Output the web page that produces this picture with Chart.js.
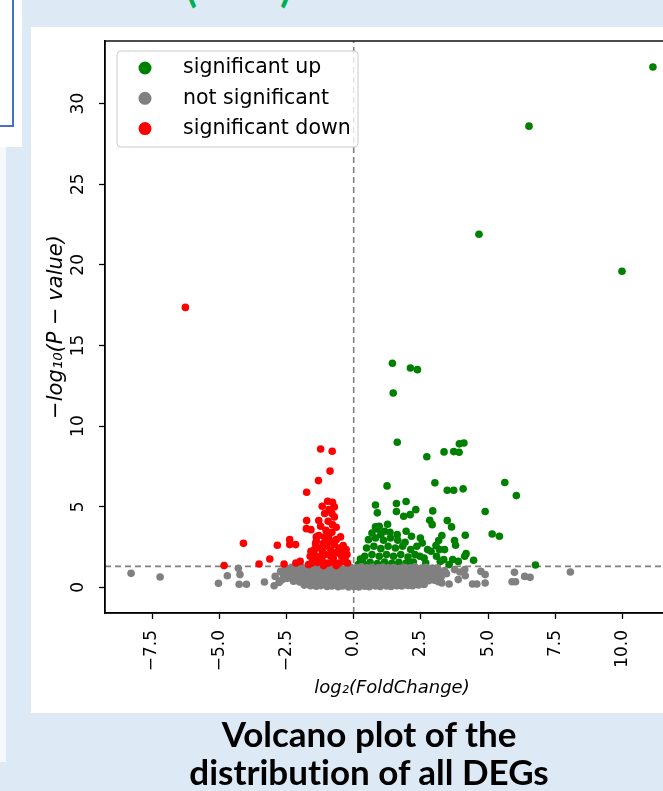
<!DOCTYPE html>
<html><head><meta charset="utf-8">
<script src="https://cdn.jsdelivr.net/npm/chart.js@4.4.0/dist/chart.umd.min.js"></script>
<style>
html,body{margin:0;padding:0;}
body{width:663px;height:791px;overflow:hidden;position:relative;background:#dde9f5;font-family:'DejaVu Sans';}
#lefttop{position:absolute;left:0;top:0;width:22px;height:147px;background:#fff;}
#bluebox{position:absolute;left:-2px;top:-2px;width:12px;height:125px;background:#fff;border:2px solid #4472c4;}
#leftstrip{position:absolute;left:0;top:147px;width:6px;height:615px;background:#f6f9fc;}
#panel{position:absolute;left:31px;top:27px;width:640px;height:686px;background:#fff;}
#chartwrap{position:absolute;left:31px;top:27px;width:680px;height:686px;}
.paren{position:absolute;top:-33px;font-family:Lato;font-weight:bold;font-size:40px;line-height:40px;color:#00b050;}
#caption{position:absolute;left:69px;width:600px;top:714px;text-align:center;font-family:Lato;font-weight:bold;font-size:35px;line-height:38px;color:#000;font-variant-ligatures:none;font-feature-settings:"liga" 0;}
</style>
</head>
<body>
<div id="lefttop"></div>
<div id="bluebox"></div>
<div id="leftstrip"></div>
<div class="paren" style="left:186px">(</div>
<div class="paren" style="left:280px">)</div>
<div id="panel"></div>
<div id="chartwrap"><canvas id="c" width="680" height="686"></canvas></div>
<div id="caption">Volcano plot of the<br>distribution of all DEGs</div>
<script>
// ---- data ----
const seriesNames = ['significant up', 'not significant', 'significant down'];
const xTicks = [-7.5, -5, -2.5, 0, 2.5, 5, 7.5, 10];
const xTickLabels = ['\u22127.5', '\u22125.0', '\u22122.5', '0.0', '2.5', '5.0', '7.5', '10.0'];
const yTicks = [0, 5, 10, 15, 20, 25, 30];
const yTickLabels = ['0', '5', '10', '15', '20', '25', '30'];
const xRange = [-9.25, 12.1];
const yRange = [-1.59, 33.88];
const fcThreshold = 0;
const pThreshold = 1.301;
const xTitle = 'log\u2082(FoldChange)';
const yTitle = '\u2212log\u2081\u2080(P \u2212 value)';

const upPoints = [
 [11.13,32.27],[6.52,28.6],[4.66,21.9],[9.98,19.6],[1.44,13.9],[2.11,13.6],[2.37,13.5],[1.47,12.05],
 [1.62,9.0],[2.72,8.1],[3.36,8.4],[3.72,8.42],[3.92,8.38],[3.93,8.9],[4.10,8.95],
 [1.24,6.29],[3.02,6.48],[3.48,6.02],[3.72,6.02],[4.07,6.11],[5.62,6.50],[6.05,5.69],[4.89,4.70],
 [5.15,3.31],[5.42,3.17],[6.76,1.39],[4.46,1.68],[4.15,3.23],[3.75,2.90],[3.79,2.61],[3.48,4.14],
 [3.64,3.75],[2.94,4.74],[2.83,4.16],[2.92,3.89],[3.28,3.21],[3.16,2.90],[3.19,2.34],[3.38,2.34],
 [3.68,1.72],[4.13,1.93],[4.18,2.09],[0.81,5.11],[0.88,4.62],[1.59,5.20],[1.59,4.70],[1.95,5.32],
 [2.31,4.82],[2.10,4.51],[1.86,4.41],[1.26,3.91],[0.81,3.75],[0.95,3.79],[1.95,3.48],[2.15,3.17],
 [2.48,3.06],[2.35,2.55],[2.55,2.75],[2.75,2.34],[2.46,1.93],[3.08,1.93],[2.68,1.51],[3.22,1.61],
 [0.35,1.51],[0.61,1.55],[0.88,1.47],[1.15,1.57],[1.42,1.49],[1.68,1.55],[1.95,1.51],[2.22,1.57],
 [0.41,1.93],[0.68,2.03],[0.95,1.93],[1.22,2.03],[1.48,1.93],[1.75,2.03],[2.02,1.88],
 [0.48,2.44],[0.75,2.55],[1.01,2.40],[1.28,2.55],[1.55,2.44],[1.82,2.55],[2.12,2.34],
 [0.55,2.96],[0.81,3.06],[1.11,2.92],[1.37,3.06],[1.64,2.92],[1.91,2.80],
 [0.68,3.37],[1.01,3.27],[1.35,3.42],[1.62,3.27],[0.88,3.62],[1.15,3.48],
 [0.17,1.41],[0.25,1.76],[2.28,2.03],[2.15,1.51],[2.62,1.82],[2.88,2.24],[3.06,2.59],[3.35,1.72],
 [3.89,1.61],[3.55,1.41]
];

const nsPoints = [
 [-8.28,0.87],[-7.20,0.64],[-5.03,0.25],[-4.70,0.72],[-4.29,1.18],[-4.23,0.79],[-4.26,0.19],[-3.99,0.19],
 [-3.32,0.33],[-2.96,0.10],[-2.92,0.68],[-2.72,0.99],[3.55,0.21],[3.89,0.48],[4.42,0.21],[4.58,0.21],
 [4.89,0.27],[4.73,0.99],[4.89,0.79],[5.98,0.93],[6.02,0.35],[5.89,0.35],[6.36,0.68],[6.56,0.62],
 [8.06,0.95],[3.75,1.10],[3.95,0.95],[4.13,1.10],[4.15,0.72],[3.08,0.79],[3.28,0.27],
 [-2.55,1.21],[-2.31,1.25],[-2.12,1.18],[-1.93,1.24],[-1.71,1.20],[-1.52,1.26],[-1.29,1.19],[-1.08,1.23],
 [-0.91,1.27],[-0.69,1.20],[-0.52,1.24],[-0.28,1.18],[-0.11,1.25],[0.12,1.22],[0.29,1.27],[0.51,1.19],
 [0.68,1.24],[0.92,1.21],[1.09,1.26],[1.31,1.20],[1.48,1.23],[1.72,1.18],[1.89,1.25],[2.11,1.22],
 [2.28,1.27],[2.52,1.20],[2.69,1.24],[2.93,1.19],[3.12,1.22],
 [-2.46,0.93],[-2.22,0.88],[-1.99,0.95],[-1.81,0.90],[-1.58,0.96],[-1.42,0.89],[-1.19,0.94],[-1.02,0.91],
 [-0.78,0.97],[-0.61,0.88],[-0.39,0.93],[-0.21,0.90],[0.02,0.96],[0.18,0.89],[0.41,0.94],[0.59,0.91],
 [0.82,0.97],[0.98,0.88],[1.21,0.93],[1.39,0.90],[1.62,0.95],[1.78,0.89],[2.01,0.94],[2.19,0.91],
 [2.42,0.96],[2.58,0.88],[2.81,0.93],[2.99,0.90],[3.21,0.86],
 [-2.38,0.60],[-2.16,0.65],[-1.94,0.58],[-1.76,0.63],[-1.54,0.61],[-1.36,0.66],[-1.13,0.59],[-0.96,0.64],
 [-0.74,0.60],[-0.56,0.65],[-0.33,0.58],[-0.16,0.63],[0.06,0.61],[0.24,0.66],[0.46,0.59],[0.64,0.64],
 [0.86,0.60],[1.04,0.65],[1.26,0.58],[1.44,0.63],[1.66,0.61],[1.84,0.66],[2.06,0.59],[2.24,0.64],
 [2.46,0.60],[2.64,0.65],[2.86,0.58],[3.04,0.55],
 [-2.24,0.38],[-2.01,0.33],[-1.79,0.36],[-1.62,0.31],[-1.39,0.37],[-1.21,0.34],[-0.99,0.30],[-0.81,0.36],
 [-0.59,0.32],[-0.41,0.37],[-0.19,0.33],[0.01,0.30],[0.21,0.35],[0.39,0.31],[0.61,0.37],[0.79,0.33],
 [1.01,0.36],[1.19,0.30],[1.41,0.35],[1.59,0.32],[1.81,0.37],[1.99,0.33],[2.21,0.38],[2.39,0.34],
 [2.61,0.39],[2.79,0.41],[3.01,0.44],
 [-1.84,0.14],[-1.61,0.10],[-1.39,0.07],[-1.22,0.11],[-0.99,0.06],[-0.81,0.09],[-0.58,0.04],[-0.41,0.08],
 [-0.19,0.03],[0.02,0.05],[0.19,0.02],[0.41,0.07],[0.58,0.04],[0.81,0.08],[0.99,0.05],[1.22,0.09],
 [1.39,0.06],[1.61,0.10],[1.79,0.08],[2.02,0.12],[2.19,0.10],[2.41,0.15],[2.62,0.18],
 [-2.68,0.45],[-2.62,0.82],[-2.50,0.55],[3.25,0.62],[3.38,1.05],[3.45,0.85],[-2.78,0.30],[3.15,0.35]
];

const downPoints = [
 [-6.26,17.36],[-1.23,8.58],[-0.80,8.44],[-0.88,7.21],[-1.31,6.62],[-1.75,5.90],
 [-0.97,5.34],[-0.79,5.28],[-1.17,5.03],[-0.72,4.99],[-0.92,4.82],[-0.81,4.58],[-1.08,4.58],[-0.72,4.37],
 [-1.75,4.14],[-1.30,4.14],[-0.95,4.10],[-1.76,3.64],[-1.59,3.58],[-0.65,3.73],[-1.03,3.54],[-0.81,3.42],
 [-1.39,3.13],[-1.30,3.21],[-1.08,3.13],[-0.92,3.27],[-0.49,3.13],[-0.65,2.96],[-0.39,2.59],[-0.85,2.86],
 [-1.12,2.75],[-1.42,2.71],[-1.59,2.24],[-1.46,2.34],[-1.26,2.44],[-0.99,2.55],[-0.72,2.65],[-0.52,2.44],
 [-0.28,2.34],[-0.25,2.03],[-1.62,1.93],[-1.46,1.82],[-1.26,1.93],[-1.06,2.03],[-0.85,1.93],[-0.65,2.13],
 [-0.45,1.93],[-1.56,1.51],[-1.35,1.55],[-1.16,1.61],[-0.95,1.51],[-0.76,1.57],[-0.55,1.51],[-0.36,1.61],
 [-0.23,1.51],[-2.15,1.51],[-2.59,1.45],[-2.38,2.96],[-2.38,2.65],[-2.16,2.65],[-2.84,2.61],[-4.10,2.73],
 [-3.12,1.76],[-3.52,1.45],[-4.82,1.35],[-1.99,1.61],[-1.68,1.41],
 [-1.48,2.09],[-1.16,2.24],[-0.85,2.28],[-0.59,2.24],[-0.39,2.17],[-1.30,1.76],[-0.76,1.82],[-0.32,1.82],
 [-1.12,1.35],[-0.65,1.35],[-0.92,2.96],[-1.23,3.79],[-0.79,3.89],[-1.39,2.86]
];

const seriesColors = ['#008000', '#808080', '#ff0000'];

// ---- chart ----
const toXY = arr => arr.map(p => ({x: p[0], y: p[1]}));
const FONT = 'DejaVu Sans';

const innerLegend = {
  id: 'innerLegend',
  afterDatasetsDraw(chart) {
    const {ctx, chartArea: a} = chart;
    const items = chart.data.datasets.filter(d => d.inLegend);
    const x0 = a.left + 12, y0 = a.top + 10, w = 241, h = 96, r = 4;
    ctx.save();
    ctx.beginPath();
    ctx.moveTo(x0 + r, y0);
    ctx.arcTo(x0 + w, y0, x0 + w, y0 + h, r);
    ctx.arcTo(x0 + w, y0 + h, x0, y0 + h, r);
    ctx.arcTo(x0, y0 + h, x0, y0, r);
    ctx.arcTo(x0, y0, x0 + w, y0, r);
    ctx.closePath();
    ctx.fillStyle = 'rgba(255,255,255,0.8)';
    ctx.fill();
    ctx.strokeStyle = '#cccccc';
    ctx.lineWidth = 1;
    ctx.stroke();
    ctx.font = '20.5px "' + FONT + '"';
    ctx.textBaseline = 'middle';
    ctx.textAlign = 'left';
    items.forEach((d, i) => {
      const cy = y0 + 17 + i * 30.3;
      ctx.beginPath();
      ctx.arc(x0 + 28, cy, 6.5, 0, Math.PI * 2);
      ctx.fillStyle = d.backgroundColor;
      ctx.fill();
      ctx.fillStyle = '#000';
      ctx.fillText(d.label, x0 + 66, cy);
    });
    ctx.restore();
  }
};

const frame = {
  id: 'frame',
  afterDraw(chart) {
    const {ctx, chartArea: a} = chart;
    ctx.save();
    ctx.strokeStyle = '#000';
    ctx.lineWidth = 1.4;
    ctx.strokeRect(a.left, a.top, a.right - a.left, a.bottom - a.top);
    ctx.restore();
  }
};

const mk = (name, pts, color, order) => ({
  label: name, data: toXY(pts), backgroundColor: color, borderColor: color,
  pointRadius: 3.8, pointHoverRadius: 3.8, borderWidth: 0, order: order, inLegend: true
});

new Chart(document.getElementById('c'), {
  type: 'scatter',
  data: {
    datasets: [
      mk(seriesNames[0], upPoints, seriesColors[0], 3),
      mk(seriesNames[1], nsPoints, seriesColors[1], 2),
      mk(seriesNames[2], downPoints, seriesColors[2], 1),
      {label: 'fc', data: [{x: fcThreshold, y: yRange[0]}, {x: fcThreshold, y: yRange[1]}], showLine: true,
       pointRadius: 0, borderColor: '#808080', borderWidth: 1.6, borderDash: [6, 4], order: 10},
      {label: 'p', data: [{x: xRange[0], y: pThreshold}, {x: xRange[1], y: pThreshold}], showLine: true,
       pointRadius: 0, borderColor: '#808080', borderWidth: 1.6, borderDash: [6, 4], order: 10}
    ]
  },
  options: {
    responsive: false, animation: false, devicePixelRatio: 1,
    layout: {padding: {top: 14, right: 32, left: 0, bottom: 0}},
    plugins: {legend: {display: false}, tooltip: {enabled: false}},
    scales: {
      x: {
        type: 'linear', min: xRange[0], max: xRange[1],
        afterBuildTicks: s => { s.ticks = xTicks.map(v => ({value: v})); },
        afterFit: s => { s.height = 100; s.paddingLeft = 0; s.paddingRight = 0; },
        ticks: {autoSkip: false, minRotation: 90, maxRotation: 90, padding: 11, color: '#000',
          font: {family: FONT, size: 17}, callback: (v, i) => xTickLabels[i]},
        grid: {drawOnChartArea: false, drawTicks: true, tickLength: 6, tickColor: '#000', tickWidth: 1.3},
        border: {display: true, color: '#000', width: 1.4},
        title: {display: true, text: xTitle, color: '#000',
          font: {family: FONT, size: 18, style: 'italic'}, padding: {top: 0, bottom: 14}}
      },
      y: {
        type: 'linear', min: yRange[0], max: yRange[1],
        afterBuildTicks: s => { s.ticks = yTicks.map(v => ({value: v})); },
        afterFit: s => { s.width = 74; s.paddingTop = 0; s.paddingBottom = 0; },
        ticks: {autoSkip: false, minRotation: 90, maxRotation: 90, crossAlign: 'center', padding: 10, color: '#000',
          font: {family: FONT, size: 17}, callback: (v, i) => yTickLabels[i]},
        grid: {drawOnChartArea: false, drawTicks: true, tickLength: 6, tickColor: '#000', tickWidth: 1.3},
        border: {display: true, color: '#000', width: 1.4},
        title: {display: true, text: yTitle, color: '#000',
          font: {family: FONT, size: 21, style: 'italic'}, padding: {top: 13, bottom: 0}}
      }
    }
  },
  plugins: [innerLegend, frame]
});
</script>
</body></html>
